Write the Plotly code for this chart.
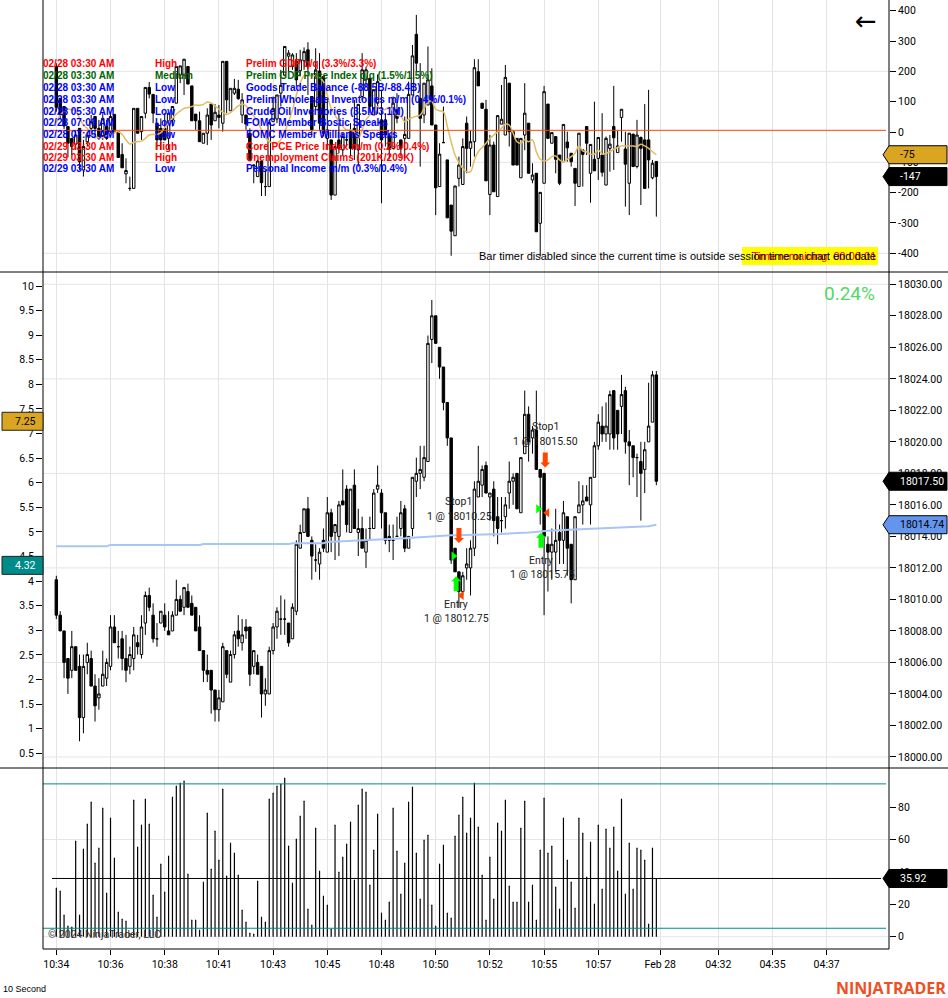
import plotly.graph_objects as go

# window size, everything below is laid out in pixels of this
W = 948
H = 998

# top pane (bars + gold average)
top_open = [216,111,84,18,-21,-40,12,-125,-32,12,
    51,12,-15,18,1,58,1,-74,-138,-186,
    -186,78,1,62,147,124,29,12,12,-21,
    40,95,188,188,216,152,59,37,-37,-4,
    92,37,56,29,233,70,128,141,56,56,
    -4,-111,-147,-96,-180,-180,34,43,128,188,
    250,216,234,202,235,271,117,84,201,183,
    -21,-26,-208,-26,-59,-26,1,12,-59,117,
    172,177,56,95,40,40,-15,-54,73,-26,
    -21,-21,122,322,111,56,89,152,23,-180,
    -35,-92,-241,-342,-153,-173,29,-54,-32,199,
    95,75,-206,-43,-213,26,-10,161,1,-21,
    -151,-10,29,-158,-136,-301,-169,92,-37,-15,
    -76,-98,-33,-70,-120,-180,-59,18,-136,-90,
    -87,-76,-175,-54,18,-68,48,-56,-169,-7,
    -114,-18,-26,-26,-151,-97]
top_high = [227,111,84,18,-21,7,12,-26,1,56,
    51,40,62,40,67,58,1,-37,-87,-147,
    78,78,51,147,165,124,29,45,62,62,
    84,216,218,240,216,152,59,67,-4,78,
    92,92,89,233,233,144,175,172,128,56,
    12,-109,-92,-96,-125,40,117,122,205,282,
    270,260,260,271,279,296,117,276,260,183,
    106,-26,-48,62,-4,-10,29,106,91,260,
    215,177,139,190,139,62,-4,117,128,-26,
    51,166,287,386,227,161,282,210,23,-37,
    84,-92,-241,-178,-81,-21,51,4,240,240,
    95,106,-10,-32,56,155,221,161,1,-21,
    -21,161,29,-103,-136,-199,152,92,-2,-15,
    -76,25,1,-70,-120,-4,-59,18,-41,100,
    -18,62,-15,-10,152,4,75,1,-4,-7,
    40,-15,92,139,-92,-97]
top_low = [67,45,10,-84,-76,-59,-125,-147,-48,-15,
    -21,-26,-26,-26,-15,-4,-84,-118,-169,-194,
    -186,-4,-26,45,111,29,-59,-59,-26,-59,
    18,95,161,122,158,37,7,-32,-37,-43,
    -26,37,12,1,62,70,122,106,29,7,
    -95,-169,-147,-211,-211,-180,34,29,84,188,
    200,205,150,183,205,122,-15,73,7,-15,
    -59,-224,-208,-70,-76,-48,-81,-92,-114,106,
    150,62,56,60,-235,-48,-90,-54,29,-81,
    -87,-21,122,199,-114,29,89,23,-274,-180,
    -35,-283,-408,-342,-180,-173,-136,-114,-81,152,
    78,-161,-274,-197,-213,26,-10,-48,-109,-109,
    -151,-60,-136,-169,-329,-411,-169,-21,-37,-136,
    -175,-98,-98,-114,-244,-180,-180,-76,-233,-128,
    -158,-147,-175,-131,-125,-68,-32,-246,-274,-114,
    -120,-241,-186,-186,-156,-279]
top_close = [81,56,20,-37,-48,-10,-98,-48,-13,34,
    12,-21,45,-21,51,1,-84,-118,-127,-186,
    78,-4,51,147,125,62,-26,-26,-26,62,
    84,216,218,240,158,37,37,-32,-4,56,
    23,65,48,233,106,144,144,110,106,26,
    -95,-109,-96,-167,-180,31,78,122,154,282,
    260,254,172,238,265,216,7,205,29,-4,
    7,-208,-48,-54,-15,-26,-54,-54,91,205,
    205,84,139,166,-26,-10,-54,95,45,-54,
    -8,124,251,227,45,161,172,23,-184,-73,
    -35,-283,-327,-178,-109,-48,-54,-32,212,152,
    78,-161,-43,-197,54,42,180,1,-109,-109,
    -21,62,-136,-142,-329,-199,133,-21,-2,-90,
    -169,25,-52,-98,-169,-4,-74,-37,-41,-128,
    -18,-133,-21,-40,-19,-46,75,-106,-4,-114,
    -10,-54,-186,-92,-103,-147]
top_avg = [29,56,67,75,73,70,45,23,12,-8,
    -15,-19,-18,-12,-7,-1,1,-8,-26,-40,
    -34,-32,-30,-21,-10,-8,-8,-2,15,29,
    45,59,69,78,81,84,89,88,91,99,
    95,86,75,65,58,64,75,86,92,86,
    70,53,34,7,-18,-32,-37,-37,-26,1,
    34,73,122,161,185,188,185,185,179,166,
    122,78,56,34,18,7,7,1,-21,7,
    40,56,67,84,73,75,81,70,56,51,
    34,42,48,52,56,78,100,100,75,70,
    67,18,-32,-76,-101,-120,-131,-131,-92,-65,
    -51,-37,-21,-10,1,12,26,23,-4,-32,
    -37,-26,-32,-26,-65,-90,-95,-92,-81,-79,
    -92,-98,-90,-81,-70,-45,-62,-65,-73,-73,
    -59,-73,-70,-65,-57,-51,-46,-46,-46,-46,
    -48,-40,-46,-54,-65,-75]

# main pane, points above 18000
PRICE_BASE = 18000
main_open = [11.25,9,8,6.25,5.5,7,5.75,2.5,6,6.25,
    4.5,3.75,4.5,5,5.75,8.25,7,7.5,6.25,5.75,
    6.25,7.25,6.5,8.5,10.25,9,7.5,8.5,9,8,
    8,9,10,9.5,10.5,9.75,9.5,8.25,6.75,5.5,
    5.5,4.25,3,3.5,6.75,4.75,6.5,8,7.25,8.25,
    8.25,5.75,6,5.75,4,4,6.75,8.25,8.75,8.75,
    8.5,7.5,9.25,13.25,14.25,15.75,13.75,12.5,12.25,13.75,
    13,15.5,14.25,14,16.25,17,14.25,17.25,14.25,14.5,
    13,14.5,14.5,17,16.75,15.5,14,13.75,14,14.5,
    15.75,13.25,14.5,17.5,18,17.75,18.75,26.5,28,26,
    24.75,22.5,20.25,13.25,11.75,10.5,12,12,13.25,16.5,
    17.25,18.5,16.5,17,15.25,15,15.25,16.75,17.5,18,
    15.5,19.25,21.75,20.25,20.75,18.25,18,13.5,13,13,
    14.25,13.75,15.25,13.5,11.25,15.5,16,16.5,16,17.75,
    19.75,21,20.5,20.5,23.25,22,22.25,23.25,20,19.75,
    19,18.75,18.25,20,21.25,24.25]
main_high = [11.5,9.25,8,6.25,8,7,6.5,6.5,7.25,6.75,
    5.25,5,6.75,6.25,9,9,8,8,7.75,7,
    8.25,7.75,9,10.5,10.75,9.75,8.5,9.25,9.75,9.25,
    9.25,11.25,10.25,10.75,11,10.25,9.5,9,6.75,6.5,
    5.5,4.25,4.25,7.25,6.75,6.75,8,9,8.75,8.75,
    8.25,6.75,6.5,5.75,5,7,8.5,9.5,10.25,10,
    8.5,9.75,13.75,14.75,15.75,16.5,14,13.5,13.25,14.5,
    16.5,15.75,14.75,16.25,18.25,17.25,17,18.25,15.75,15.25,
    14.5,15.25,17,18.5,17,15.5,14.75,14.75,15.25,16.25,
    16,14,17.75,19,19.75,19.75,26.75,29,28,26,
    24.75,22.5,20.25,13.25,11.75,11.75,13.25,13.75,17.5,19.75,
    18.5,18.75,16.75,17.5,16.5,16.5,16.5,18.75,18,18,
    19,23.25,22.25,21,23.25,18.25,18,14,14.5,15.75,
    14.75,16.25,15.25,13.5,15.25,17.5,17.25,17.25,17.75,20,
    21.75,22.25,22.5,23.25,23.25,22,24.25,23.5,20.75,19.75,
    19.25,20,20,23.75,24.5,24.5]
main_low = [8.75,8,5,4,5,5.5,1,1.5,5.25,4.5,
    2.25,3,4.5,4.5,5.5,7.25,6.25,5.5,4.75,5.25,
    5.5,6.5,6.25,7.75,9.25,7.25,7,8.5,8,7.75,
    8,9,9.25,9,9.5,9,8,6.75,4.75,4.75,
    2.75,2.25,2.25,3.5,5,4.75,6.25,7,6.75,7.5,
    4.5,5.25,5.25,2.5,3.25,4,6.5,7.5,7.75,7.75,
    7,7.5,9,13.25,14.25,14,11.25,11.75,11.25,13,
    13,13,12.5,12.75,16,14.25,14.25,14.5,12.75,13.25,
    12,13.75,14.5,16.75,14.5,13.5,13,12.5,14,14,
    13,13.25,14,16.5,17,17.5,18.75,25,26.25,24,
    22,19.75,12.25,11.75,9.5,10.25,11.25,10.25,12.75,16.5,
    16.5,16.75,15,14,13.5,14.25,14.5,15.75,16,15.75,
    15.5,19.25,18.75,19.25,18.25,14.75,9,10.5,11.25,11.75,
    12.25,12.25,11.5,9.75,11.25,15.5,14.75,16.25,14.75,17.75,
    19.5,20,20,19.5,19.5,19.5,20.5,19.25,17.25,17.75,
    16.5,15,16.75,20,21.25,17.25]
main_close = [9,8,6,5,7,5.5,2.5,5.75,6.5,4.5,
    3.25,4,5.25,6,8.25,7.25,7,6.25,5.5,6.5,
    7.75,7,8.25,10.25,9.5,7.5,7.5,9.25,8.25,7.75,
    9,10,9.25,10.75,9.5,9,8,6.75,5.5,5.25,
    4.25,3,3.75,7,5.25,6.5,7.75,7.5,7.75,8,
    5.25,6.75,5.25,4,4.25,6.75,8.25,9.25,8.75,8.75,
    7.25,9.5,13.5,14.25,15.75,14,12.75,12.5,13,13.25,
    15.5,14,14.75,16,16,14.75,17,14.5,14.5,13.25,
    13.75,14.5,16.75,17.25,15.5,13.75,13.75,13.75,14,15.5,
    13.25,14,17.75,18,18.25,19,26.25,28,26.25,24.75,
    22.5,20.25,12.5,11.75,10.5,11.5,12.25,13.25,17,17.5,
    18.25,16.75,16.75,15,14.5,15,16,17.5,17.75,15.75,
    19,21.75,20,20.75,18.25,17.75,14,13,13.5,13.75,
    13.75,15.5,13.25,11.25,15.25,16,16.25,16.25,17.75,19.75,
    21.25,20.5,21,23,20.25,20.5,23,20,19.75,19,
    19,18,19.5,21,24.25,17.5]
vwap = [13.38,13.38,13.38,13.38,13.38,13.38,13.38,13.38,13.38,13.38,
    13.38,13.38,13.38,13.38,13.46,13.46,13.46,13.46,13.46,13.46,
    13.46,13.46,13.46,13.46,13.46,13.46,13.46,13.46,13.46,13.46,
    13.46,13.46,13.46,13.46,13.46,13.46,13.46,13.46,13.51,13.51,
    13.51,13.51,13.51,13.51,13.51,13.51,13.51,13.51,13.51,13.51,
    13.51,13.51,13.51,13.51,13.51,13.51,13.51,13.51,13.51,13.51,
    13.51,13.57,13.57,13.57,13.57,13.57,13.57,13.57,13.57,13.57,
    13.65,13.66,13.67,13.68,13.7,13.71,13.72,13.73,13.74,13.75,
    13.76,13.77,13.78,13.79,13.8,13.8,13.8,13.82,13.84,13.86,
    13.88,13.9,13.92,13.94,13.95,13.97,13.97,13.98,14.0,14.02,
    14.04,14.06,14.08,14.08,14.09,14.09,14.1,14.1,14.11,14.11,
    14.12,14.12,14.13,14.14,14.14,14.15,14.16,14.16,14.17,14.18,
    14.2,14.22,14.25,14.27,14.3,14.33,14.35,14.36,14.37,14.38,
    14.39,14.4,14.41,14.42,14.43,14.44,14.44,14.45,14.46,14.47,
    14.48,14.49,14.5,14.5,14.51,14.52,14.53,14.54,14.55,14.56,
    14.57,14.58,14.6,14.64,14.69,14.74]

# bottom pane
osc = [30.0,28.2,13.4,6.6,6.0,59.1,13.4,54.1,69.5,83.1,45.5,54.7,79.4,27.0,73.3,48.6,15.2,10.9,9.7,2.1,
    84.4,55.3,68.9,85.0,69.5,25.7,12.1,44.9,27.6,49.8,86.2,93.0,94.9,96.1,38.7,10.3,10.3,4.1,33.7,76.3,
    41.8,65.2,47.3,91.2,37.4,57.8,51.6,38.1,16.5,9.1,2.3,1.6,34.4,12.1,9.1,85.0,88.7,93.0,94.2,97.9,
    56.0,33.1,60.3,74.5,83.7,17.1,7.2,67.1,40.5,25.1,19.5,4.7,68.9,39.9,49.2,57.2,70.8,35.0,81.3,91.2,
    89.3,31.9,53.5,75.7,14.6,10.3,21.4,79.4,52.9,26.3,45.5,83.1,92.4,51.6,23.3,59.7,62.8,19.5,6.6,44.9,
    56.6,14.6,11.5,62.1,75.1,86.2,64.0,73.3,94.9,67.7,38.1,10.3,49.2,23.3,70.2,65.2,84.4,31.3,21.4,21.4,
    67.1,83.7,21.4,31.9,10.3,53.5,85.6,51.6,56.0,30.7,17.1,73.3,47.3,33.7,17.7,73.3,64.0,36.8,58.4,20.2,
    68.9,29.4,66.5,54.7,67.7,40.5,85.0,26.3,57.8,29.4,54.7,53.5,47.3,7.8,54.7,35.92]

bar_idx = list(range(len(main_open)))

# time axis
time_ticks = [0,14,28,42,56,70,84,98,112,126,140,156,171,185,199]
time_labels = ["10:34","10:36","10:38","10:41","10:43","10:45","10:48","10:50","10:52","10:55","10:57","Feb 28","04:32","04:35","04:37"]

top_ticks = [-400,-300,-200,-100,0,100,200,300,400]
top_grid = [-400,-100,200]
main_ticks = list(range(18000, 18031, 2))
main_grid = [18000,18006,18012,18018,18024,18030]
left_ticks = [0.5,1,1.5,2,2.5,3,3.5,4,4.5,5,5.5,6,6.5,7,7.5,8,8.5,9,9.5,10]
osc_ticks = [0,20,40,60,80]
osc_grid = [0,60]

news_time = ["02/28 03:30 AM","02/28 03:30 AM","02/28 03:30 AM","02/28 03:30 AM","02/28 05:30 AM","02/28 07:00 AM","02/28 07:45 AM","02/29 03:30 AM","02/29 03:30 AM","02/29 03:30 AM"]
news_level = ["High","Medium","Low","Low","Low","Low","Low","High","High","Low"]
news_text = ["Prelim GDP q/q (3.3%/3.3%)","Prelim GDP Price Index q/q (1.5%/1.5%)","Goods Trade Balance (-88.5B/-88.4B)",
    "Prelim Wholesale Inventories m/m (0.4%/0.1%)","Crude Oil Inventories (3.5M/3.1M)","FOMC Member Bostic Speaks",
    "FOMC Member Williams Speaks","Core PCE Price Index m/m (0.2%/0.4%)","Unemployment Claims (201K/209K)","Personal Income m/m (0.3%/0.4%)"]
news_y = [64,76,88,99.5,111,122.5,134,146,157,168.5]
level_color = {"High":"#FF0000","Medium":"#006400","Low":"#0000FF"}

AXIS_FONT = dict(family="Roboto", size=10.5, color="black")
ARIAL = "Liberation Sans"
GRID = "#e4e4e4"
ORANGE = "#FF4500"
GREEN = "#00FF00"
TEAL = "#008B8B"


def px_x(x):
    return x / W


def px_y(y):
    return 1 - y / H


ALL = dict(xaxis="x", hoverinfo="skip", showlegend=False)
fig = go.Figure()

fig.add_trace(go.Candlestick(x=bar_idx, open=top_open, high=top_high, low=top_low, close=top_close, yaxis="y", xaxis="x",
                             increasing=dict(line=dict(color="black", width=1), fillcolor="white"),
                             decreasing=dict(line=dict(color="black", width=1), fillcolor="black"),
                             whiskerwidth=0, hoverinfo="skip", showlegend=False))
fig.add_trace(go.Scatter(x=bar_idx, y=top_avg, mode="lines", yaxis="y", line=dict(color="#e2bc62", width=1.5, shape="spline"), **ALL))

main_abs = [[PRICE_BASE + v for v in s] for s in (main_open, main_high, main_low, main_close)]
fig.add_trace(go.Candlestick(x=bar_idx, open=main_abs[0], high=main_abs[1], low=main_abs[2], close=main_abs[3], yaxis="y2", xaxis="x",
                             increasing=dict(line=dict(color="black", width=1), fillcolor="white"),
                             decreasing=dict(line=dict(color="black", width=1), fillcolor="black"),
                             whiskerwidth=0, hoverinfo="skip", showlegend=False))
fig.add_trace(go.Scatter(x=bar_idx, y=[PRICE_BASE + v for v in vwap], mode="lines", yaxis="y2", line=dict(color="#a9c5f6", width=2), **ALL))

# executions
fig.add_trace(go.Scatter(x=[102.6,124.5], y=[18012.75,18015.75], mode="markers", yaxis="y2",
                         marker=dict(symbol="triangle-right", size=8, color=GREEN), **ALL))
fig.add_trace(go.Scatter(x=[104.7,126.8], y=[18010.25,18015.5], mode="markers", yaxis="y2",
                         marker=dict(symbol="triangle-left", size=8, color=ORANGE), **ALL))

# thin bars get widened to 2px by go.Bar, error bars stay thin
fig.add_trace(go.Scatter(x=bar_idx, y=osc, mode="markers", yaxis="y3", marker=dict(size=1, color="black"),
                         error_y=dict(type="data", symmetric=False, array=[0] * len(osc), arrayminus=osc, width=0, thickness=1.2, color="black"), **ALL))

# left scale of the main pane
fig.add_trace(go.Scatter(x=[0,1], y=[7.25,4.32], mode="none", yaxis="y4", **ALL))

shapes = []
annos = []


def hline(yref, val, color, x0=43, x1=889, width=1, layer="below"):
    shapes.append(dict(type="line", xref="paper", yref=yref, x0=px_x(x0), x1=px_x(x1), y0=val, y1=val,
                       line=dict(color=color, width=width), layer=layer))


def text(x, y, s, size=11, color="black", family=ARIAL, anchor="left", bold=False):
    if bold:
        s = "<b>" + s + "</b>"
    annos.append(dict(xref="paper", yref="paper", x=px_x(x), y=px_y(y), text=s, showarrow=False, xanchor=anchor, yanchor="middle",
                      font=dict(family=family, size=size, color=color), borderpad=0, borderwidth=0))


def flag(yref, val, label, fill, color):
    shapes.append(dict(type="path", xref="paper", yref=yref, xsizemode="pixel", ysizemode="pixel", xanchor=px_x(889), yanchor=val,
                       path="M -6 0 L 0 -9 L 58 -9 L 58 9 L 0 9 Z", fillcolor=fill, line=dict(color="black", width=1)))
    annos.append(dict(xref="paper", yref=yref, x=px_x(898), y=val, text=label, showarrow=False, xanchor="left", yanchor="middle",
                      font=dict(AXIS_FONT, color=color)))


def left_flag(val, label, fill, color):
    shapes.append(dict(type="path", xref="paper", yref="y4", xsizemode="pixel", ysizemode="pixel", xanchor=px_x(2), yanchor=val,
                       path="M 0 -9 L 41 -9 L 41 9 L 0 9 Z", fillcolor=fill, line=dict(color="#222222", width=1)))
    annos.append(dict(xref="paper", yref="y4", x=px_x(25), y=val, text=label, showarrow=False, xanchor="center", yanchor="middle",
                      font=dict(AXIS_FONT, color=color)))


def arrow(xval, val, up, color):
    p = "M 0 7.5 L 5 2.5 L 2.5 2.5 L 2.5 -7.5 L -2.5 -7.5 L -2.5 2.5 L -5 2.5 Z"
    if not up:
        p = "M 0 -7.5 L 5 -2.5 L 2.5 -2.5 L 2.5 7.5 L -2.5 7.5 L -2.5 -2.5 L -5 -2.5 Z"
    shapes.append(dict(type="path", xref="x", yref="y2", xsizemode="pixel", ysizemode="pixel", xanchor=xval, yanchor=val,
                       path=p, fillcolor=color, line=dict(width=0)))


for v in top_grid:
    hline("y", v, GRID)
for v in main_grid:
    hline("y2", v, GRID)
for v in osc_grid:
    hline("y3", v, GRID)

hline("y", 5.5, ORANGE, x1=886, layer="above")
hline("y3", 94.3, TEAL, x1=886, layer="above")
hline("y3", 5.2, TEAL, x1=886, layer="above")
hline("y3", 35.92, "black", x0=52, x1=881, layer="above")

arrow(103.3, 18011.0, True, GREEN)
arrow(104.0, 18014.05, False, ORANGE)
arrow(125.2, 18013.75, True, GREEN)
arrow(126.3, 18018.85, False, ORANGE)

# pane frame
for y in (272, 768):
    shapes.append(dict(type="line", xref="paper", yref="paper", x0=0, x1=1, y0=px_y(y), y1=px_y(y), line=dict(color="black", width=1)))
shapes.append(dict(type="line", xref="paper", yref="paper", x0=px_x(43), x1=px_x(889), y0=px_y(949), y1=px_y(949), line=dict(color="black", width=1)))
for x in (43, 889):
    shapes.append(dict(type="line", xref="paper", yref="paper", x0=px_x(x), x1=px_x(x), y0=px_y(0), y1=px_y(949), line=dict(color="black", width=1)))

# yellow box behind bar timer
shapes.append(dict(type="rect", xref="paper", yref="paper", x0=px_x(742), x1=px_x(878), y0=px_y(247), y1=px_y(265), fillcolor="#FFFF00", line=dict(width=0)))

flag("y", -75, "-75", "#DAA520", "black")
flag("y", -147, "-147", "black", "white")
flag("y2", 18017.5, "18017.50", "black", "white")
flag("y2", 18014.74, "18014.74", "#6495ED", "black")
flag("y3", 35.92, "35.92", "black", "white")
left_flag(7.25, "7.25", "#DAA520", "black")
left_flag(4.32, "4.32", TEAL, "white")

for i in range(len(news_time)):
    c = level_color[news_level[i]]
    text(43, news_y[i], news_time[i], 10, c, bold=True)
    text(155, news_y[i], news_level[i], 10, c, bold=True)
    text(246, news_y[i], news_text[i], 10, c, bold=True)

text(876, 256, "Time remaining: 00:00:01", 11, "#FF0000", anchor="right")
text(876, 256, "Bar timer disabled since the current time is outside session time or chart end date", 11, "black", anchor="right")
text(866, 21, "←", 26, "black", "DejaVu Sans", "center")
text(875, 293, "0.24%", 19, "#4fd868", "Roboto", "right")

LABEL = "#222222"
text(458, 502, "Stop1", 10.5, LABEL, "Roboto", "center")
text(459, 516, "1 @ 18010.25", 10.5, LABEL, "Roboto", "center")
text(456, 604, "Entry", 10.5, LABEL, "Roboto", "center")
text(456, 618, "1 @ 18012.75", 10.5, LABEL, "Roboto", "center")
text(545, 427, "Stop1", 10.5, LABEL, "Roboto", "center")
text(545, 441, "1 @ 18015.50", 10.5, LABEL, "Roboto", "center")
text(541, 560, "Entry", 10.5, LABEL, "Roboto", "center")
text(542, 574, "1 @ 18015.75", 10.5, LABEL, "Roboto", "center")

text(48, 934, "© 2024 NinjaTrader, LLC", 10.5, "#333333", "Roboto")
text(3, 989, "10 Second", 9, "black", ARIAL)
text(946, 988, "NINJATRADER", 16, "#F04E23", "Open Sans", "right", bold=True)

axis_common = dict(showgrid=False, zeroline=False, ticks="outside", ticklen=6, tickcolor="black", tickfont=AXIS_FONT, tickmode="array")

fig.update_layout(
    width=W, height=H, autosize=False,
    margin=dict(l=0, r=0, t=0, b=0, pad=0),
    paper_bgcolor="white", plot_bgcolor="rgba(0,0,0,0)",
    showlegend=False, boxgap=0.1,
    xaxis=dict(domain=[px_x(43), px_x(889)], range=[-3.44, 215.1], anchor="y3", tickmode="array", tickvals=time_ticks, ticktext=time_labels,
               showgrid=True, gridcolor=GRID, gridwidth=1, zeroline=False, ticks="outside", ticklen=5, tickcolor="black",
               tickfont=AXIS_FONT, rangeslider=dict(visible=False), tickangle=0),
    yaxis=dict(domain=[px_y(272), px_y(0)], range=[-461.6, 435.2], side="right", anchor="x",
               tickvals=top_ticks, ticktext=[str(v) for v in top_ticks], **axis_common),
    yaxis2=dict(domain=[px_y(768), px_y(272)], range=[17999.30, 18030.78], side="right", anchor="x",
                tickvals=main_ticks, ticktext=["%.2f" % v for v in main_ticks], **axis_common),
    yaxis3=dict(domain=[px_y(949), px_y(768)], range=[-7.6, 104.1], side="right", anchor="x",
                tickvals=osc_ticks, ticktext=[str(v) for v in osc_ticks], **axis_common),
    yaxis4=dict(domain=[px_y(768), px_y(272)], range=[0.2, 10.285], side="left", anchor="x", overlaying="y2",
                tickvals=left_ticks, ticktext=["%g" % v for v in left_ticks], **axis_common),
    shapes=shapes,
    annotations=annos,
)

# page has a default body margin, drop it so the chart sits at 0,0
fig.write_html("out.html", config={"displayModeBar": False}, post_script="document.body.style.margin='0';")
